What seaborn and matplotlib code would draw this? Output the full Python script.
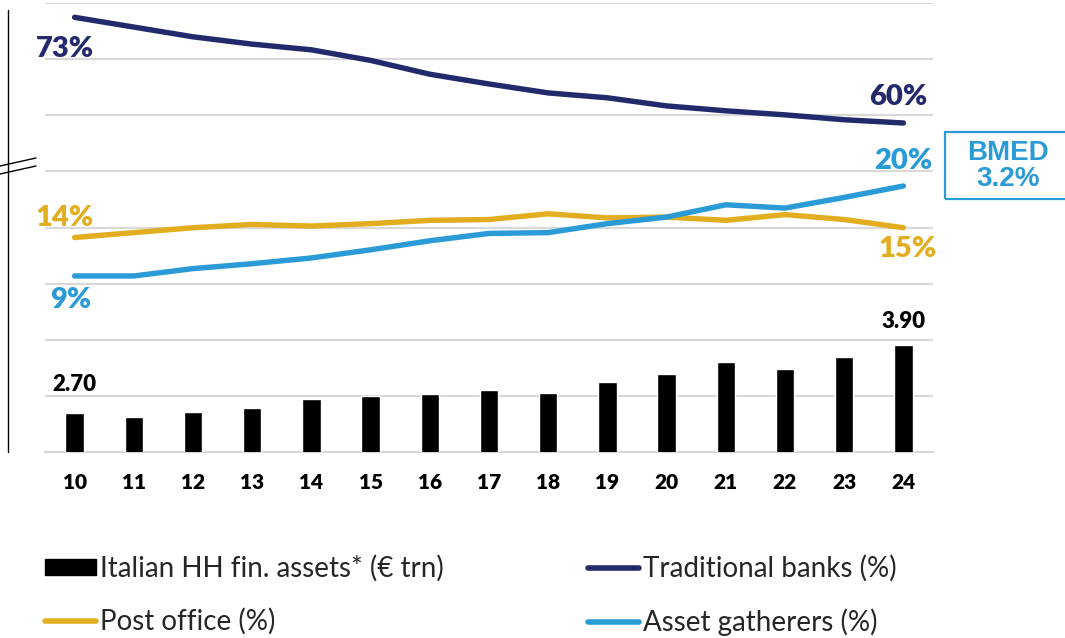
import matplotlib
matplotlib.use("Agg")
import matplotlib.pyplot as plt
import numpy as np
import pandas as pd
import seaborn as sns
from matplotlib.lines import Line2D
from matplotlib.patches import Patch, Rectangle

# data
years = ["10", "11", "12", "13", "14", "15", "16", "17", "18", "19", "20", "21", "22", "23", "24"]
hh_assets = [2.70, 2.63, 2.71, 2.78, 2.94, 3.00, 3.03, 3.10, 3.06, 3.25, 3.39, 3.60, 3.47, 3.69, 3.90]
trad_banks = [73.0, 71.8, 70.6, 69.7, 69.0, 67.7, 66.0, 64.8, 63.7, 63.1, 62.1, 61.5, 61.0, 60.4, 60.0]
post_office = [13.7, 14.3, 14.9, 15.3, 15.1, 15.4, 15.8, 15.9, 16.6, 16.1, 16.2, 15.8, 16.5, 15.9, 14.9]
asset_gath = [9.0, 9.0, 9.9, 10.5, 11.2, 12.2, 13.3, 14.2, 14.3, 15.4, 16.2, 17.7, 17.3, 18.6, 20.0]

NAVY = "#222a6c"
GOLD = "#e2ae20"
BLUE = "#2a9bd7"
GRID = "#d9d9d9"

sns.set_theme(style="white")
plt.rcParams["font.family"] = ["Lato", "DejaVu Sans"]

W, H = 1065, 638
fig = plt.figure(figsize=(W / 100, H / 100), dpi=100)
ax = fig.add_axes([45 / W, 1 - 452 / H, (933 - 45) / W, 449 / H])

df = pd.DataFrame({
    "year": years,
    "pos": np.arange(len(years)),
    "assets": hh_assets,
    "trad": trad_banks,
    "post": post_office,
    "gath": asset_gath,
})

sns.barplot(data=df, x="year", y="assets", color="black", width=0.31,
            saturation=1, ax=ax, zorder=3)
ax.set_ylim(2, 10)
ax.set_xlim(-0.5, len(years) - 0.5)
ax.set_yticks(range(2, 11))
ax.set_yticklabels([])
ax.yaxis.grid(True, color=GRID, lw=1.6, zorder=0)
ax.set_axisbelow(True)
ax.set_xlabel("")
ax.set_ylabel("")
for s in ["top", "left", "right"]:
    ax.spines[s].set_visible(False)
ax.spines["bottom"].set_color(GRID)
ax.spines["bottom"].set_linewidth(1.6)
ax.tick_params(axis="y", length=0)
ax.tick_params(axis="x", which="major", length=0, pad=15, labelsize=15)
ax.set_xticks(np.arange(-0.5, len(years)), minor=True)
ax.tick_params(axis="x", which="minor", length=4.5, width=1.3, color=GRID)
for lab in ax.get_xticklabels():
    lab.set_fontweight("heavy")
    lab.set_color("black")

# bar value labels (first and last)
for i in (0, len(years) - 1):
    ax.annotate(f"{hh_assets[i]:.2f}", (i, hh_assets[i]), xytext=(0, 20 if i == 0 else 17),
                textcoords="offset points", ha="center", va="center",
                fontsize=16, fontweight="heavy", color="black")

# percentage lines: upper segment (traditional banks) and lower segment
ax_hi = ax.twinx()
ax_lo = ax.twinx()
ax_hi.set_ylim(19.53, 74.76)
ax_lo.set_ylim(-12.52, 42.37)
for a in (ax_hi, ax_lo):
    a.set_axis_off()
    a.set_xlim(-0.5, len(years) - 0.5)

kw = dict(lw=3.9, solid_capstyle="round", legend=False)
sns.lineplot(data=df, x="pos", y="trad", color=NAVY, ax=ax_hi, **kw)
sns.lineplot(data=df, x="pos", y="post", color=GOLD, ax=ax_lo, **kw)
sns.lineplot(data=df, x="pos", y="gath", color=BLUE, ax=ax_lo, **kw)

last = len(years) - 1
lab_kw = dict(textcoords="offset points", ha="center", va="center",
              fontsize=21, fontweight="heavy")
ax_hi.annotate("73%", (0, trad_banks[0]), xytext=(-7, -23), color=NAVY, **lab_kw)
ax_hi.annotate("60%", (last, trad_banks[last]), xytext=(-4, 19), color=NAVY, **lab_kw)
ax_lo.annotate("14%", (0, post_office[0]), xytext=(-7, 14), color=GOLD, **lab_kw)
ax_lo.annotate("15%", (last, post_office[last]), xytext=(3, -15), color=GOLD, **lab_kw)
ax_lo.annotate("9%", (0, asset_gath[0]), xytext=(-3, -17), color=BLUE, **lab_kw)
ax_lo.annotate("20%", (last, asset_gath[last]), xytext=(0, 18), color=BLUE, **lab_kw)

# BMED box
fig.add_artist(Rectangle((945 / W, 1 - 199 / H), 130 / W, 67 / H, transform=fig.transFigure,
                         fill=False, edgecolor=BLUE, lw=1.6, clip_on=False))
fig.text(1008 / W, 1 - 166 / H, "BMED\n3.2%", ha="center", va="center", color=BLUE,
         fontsize=20, fontweight="bold", linespacing=1.0,
         family=["Liberation Sans", "DejaVu Sans"])

# broken left axis
fig.add_artist(Line2D([8 / W, 8 / W], [1 - 10 / H, 1 - 452 / H], color="black", lw=1.0,
                      transform=fig.transFigure))
for y0 in (166, 174):
    fig.add_artist(Line2D([0, 36 / W], [1 - y0 / H, 1 - (y0 - 8) / H], color="black", lw=1.0,
                          transform=fig.transFigure))

handles = [
    Patch(facecolor="black", edgecolor="black"),
    Line2D([], [], color=GOLD, lw=4, solid_capstyle="round"),
    Line2D([], [], color=NAVY, lw=4, solid_capstyle="round"),
    Line2D([], [], color=BLUE, lw=4, solid_capstyle="round"),
]
labels = ["Italian HH fin. assets* (€ trn)", "Post office (%)",
          "Traditional banks (%)", "Asset gatherers (%)"]
fig.legend(handles, labels, ncol=2, loc="upper left", bbox_to_anchor=(45 / W, 1 - 555 / H),
           frameon=False, fontsize=20, handlelength=1.85, handleheight=0.55,
           handletextpad=0.12, columnspacing=5.2, labelspacing=0.95,
           borderpad=0, borderaxespad=0)

fig.savefig("out.png", dpi=100)
